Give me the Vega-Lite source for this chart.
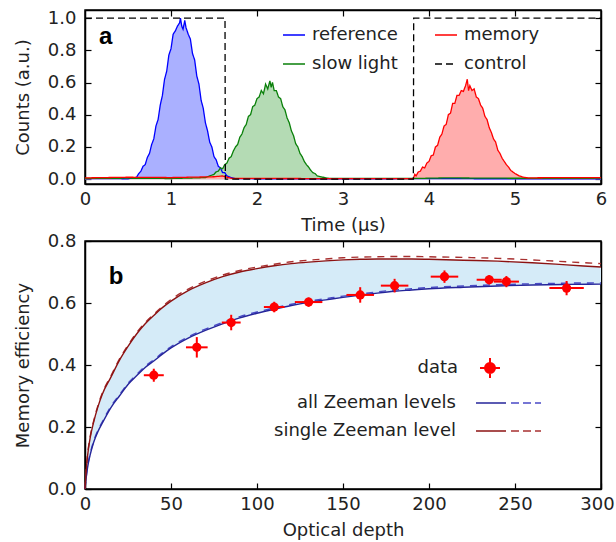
{
  "$schema": "https://vega.github.io/schema/vega-lite/v6.json",
  "padding": {"left": 13, "top": 8, "right": 10, "bottom": 4},
  "spacing": -4,
  "config": {
    "font": "DejaVu Sans",
    "view": {"stroke": "#000", "strokeWidth": 1.5},
    "axis": {"labelFont": "DejaVu Sans", "labelFontSize": 18, "labelColor": "#222", "titleFont": "DejaVu Sans", "titleFontSize": 18, "titleFontWeight": "normal", "titleColor": "#222", "tickSize": -6, "tickColor": "#000", "tickWidth": 1.2, "domainColor": "#000", "domainWidth": 1.5, "grid": false, "labelFlush": false, "labelOverlap": false},
    "axisX": {"labelPadding": 12, "titlePadding": 8},
    "axisY": {"labelPadding": 15, "titlePadding": 15},
    "legend": {"labelFont": "DejaVu Sans", "labelFontSize": 18, "labelColor": "#222", "padding": 0, "labelLimit": 0}
  },
  "resolve": {"scale": {"color": "independent", "strokeDash": "independent", "fill": "independent", "stroke": "independent", "shape": "independent"}},
  "datasets": {
    "pulses": [
      {"t": 0, "v": 0.003, "s": "reference"}, {"t": 0.3, "v": 0.004, "s": "reference"}, {"t": 0.5, "v": 0.002, "s": "reference"}, {"t": 0.6, "v": 0.012, "s": "reference"}, {"t": 0.625, "v": 0.035, "s": "reference"}, {"t": 0.65, "v": 0.05, "s": "reference"}, {"t": 0.675, "v": 0.08, "s": "reference"}, {"t": 0.7, "v": 0.09, "s": "reference"}, {"t": 0.725, "v": 0.135, "s": "reference"}, {"t": 0.75, "v": 0.16, "s": "reference"}, {"t": 0.775, "v": 0.215, "s": "reference"}, {"t": 0.8, "v": 0.25, "s": "reference"}, {"t": 0.825, "v": 0.33, "s": "reference"}, {"t": 0.85, "v": 0.37, "s": "reference"}, {"t": 0.875, "v": 0.46, "s": "reference"}, {"t": 0.9, "v": 0.52, "s": "reference"}, {"t": 0.925, "v": 0.62, "s": "reference"}, {"t": 0.95, "v": 0.67, "s": "reference"}, {"t": 0.975, "v": 0.77, "s": "reference"}, {"t": 1.0, "v": 0.81, "s": "reference"}, {"t": 1.025, "v": 0.9, "s": "reference"}, {"t": 1.05, "v": 0.92, "s": "reference"}, {"t": 1.075, "v": 0.95, "s": "reference"}, {"t": 1.1, "v": 0.97, "s": "reference"}, {"t": 1.11, "v": 1.0, "s": "reference"}, {"t": 1.125, "v": 0.95, "s": "reference"}, {"t": 1.14, "v": 0.93, "s": "reference"}, {"t": 1.16, "v": 0.985, "s": "reference"}, {"t": 1.175, "v": 0.94, "s": "reference"}, {"t": 1.2, "v": 0.9, "s": "reference"}, {"t": 1.225, "v": 0.87, "s": "reference"}, {"t": 1.25, "v": 0.78, "s": "reference"}, {"t": 1.275, "v": 0.74, "s": "reference"}, {"t": 1.3, "v": 0.64, "s": "reference"}, {"t": 1.325, "v": 0.59, "s": "reference"}, {"t": 1.35, "v": 0.49, "s": "reference"}, {"t": 1.375, "v": 0.44, "s": "reference"}, {"t": 1.4, "v": 0.35, "s": "reference"}, {"t": 1.425, "v": 0.3, "s": "reference"}, {"t": 1.45, "v": 0.23, "s": "reference"}, {"t": 1.475, "v": 0.2, "s": "reference"}, {"t": 1.5, "v": 0.14, "s": "reference"}, {"t": 1.525, "v": 0.12, "s": "reference"}, {"t": 1.55, "v": 0.08, "s": "reference"}, {"t": 1.575, "v": 0.07, "s": "reference"}, {"t": 1.6, "v": 0.04, "s": "reference"}, {"t": 1.625, "v": 0.04, "s": "reference"}, {"t": 1.65, "v": 0.02, "s": "reference"}, {"t": 1.7, "v": 0.01, "s": "reference"}, {"t": 1.75, "v": 0.003, "s": "reference"}, {"t": 2.5, "v": 0.002, "s": "reference"}, {"t": 4, "v": 0.003, "s": "reference"}, {"t": 6, "v": 0.002, "s": "reference"},
      {"t": 0, "v": 0.005, "s": "slow light"}, {"t": 0.5, "v": 0.006, "s": "slow light"}, {"t": 1.0, "v": 0.004, "s": "slow light"}, {"t": 1.3, "v": 0.008, "s": "slow light"}, {"t": 1.4, "v": 0.01, "s": "slow light"}, {"t": 1.45, "v": 0.02, "s": "slow light"}, {"t": 1.5, "v": 0.03, "s": "slow light"}, {"t": 1.525, "v": 0.045, "s": "slow light"}, {"t": 1.55, "v": 0.05, "s": "slow light"}, {"t": 1.575, "v": 0.07, "s": "slow light"}, {"t": 1.6, "v": 0.065, "s": "slow light"}, {"t": 1.625, "v": 0.09, "s": "slow light"}, {"t": 1.65, "v": 0.1, "s": "slow light"}, {"t": 1.675, "v": 0.13, "s": "slow light"}, {"t": 1.7, "v": 0.14, "s": "slow light"}, {"t": 1.725, "v": 0.175, "s": "slow light"}, {"t": 1.75, "v": 0.2, "s": "slow light"}, {"t": 1.775, "v": 0.215, "s": "slow light"}, {"t": 1.8, "v": 0.26, "s": "slow light"}, {"t": 1.825, "v": 0.28, "s": "slow light"}, {"t": 1.85, "v": 0.32, "s": "slow light"}, {"t": 1.875, "v": 0.34, "s": "slow light"}, {"t": 1.9, "v": 0.39, "s": "slow light"}, {"t": 1.925, "v": 0.4, "s": "slow light"}, {"t": 1.95, "v": 0.45, "s": "slow light"}, {"t": 1.975, "v": 0.46, "s": "slow light"}, {"t": 2.0, "v": 0.5, "s": "slow light"}, {"t": 2.025, "v": 0.51, "s": "slow light"}, {"t": 2.05, "v": 0.55, "s": "slow light"}, {"t": 2.075, "v": 0.53, "s": "slow light"}, {"t": 2.1, "v": 0.59, "s": "slow light"}, {"t": 2.125, "v": 0.56, "s": "slow light"}, {"t": 2.15, "v": 0.61, "s": "slow light"}, {"t": 2.165, "v": 0.57, "s": "slow light"}, {"t": 2.18, "v": 0.6, "s": "slow light"}, {"t": 2.2, "v": 0.55, "s": "slow light"}, {"t": 2.225, "v": 0.55, "s": "slow light"}, {"t": 2.25, "v": 0.51, "s": "slow light"}, {"t": 2.275, "v": 0.5, "s": "slow light"}, {"t": 2.3, "v": 0.45, "s": "slow light"}, {"t": 2.325, "v": 0.43, "s": "slow light"}, {"t": 2.35, "v": 0.38, "s": "slow light"}, {"t": 2.375, "v": 0.35, "s": "slow light"}, {"t": 2.4, "v": 0.3, "s": "slow light"}, {"t": 2.425, "v": 0.27, "s": "slow light"}, {"t": 2.45, "v": 0.22, "s": "slow light"}, {"t": 2.475, "v": 0.2, "s": "slow light"}, {"t": 2.5, "v": 0.16, "s": "slow light"}, {"t": 2.525, "v": 0.14, "s": "slow light"}, {"t": 2.55, "v": 0.11, "s": "slow light"}, {"t": 2.575, "v": 0.09, "s": "slow light"}, {"t": 2.6, "v": 0.075, "s": "slow light"}, {"t": 2.625, "v": 0.055, "s": "slow light"}, {"t": 2.65, "v": 0.04, "s": "slow light"}, {"t": 2.675, "v": 0.035, "s": "slow light"}, {"t": 2.7, "v": 0.02, "s": "slow light"}, {"t": 2.75, "v": 0.014, "s": "slow light"}, {"t": 2.8, "v": 0.008, "s": "slow light"}, {"t": 2.85, "v": 0.004, "s": "slow light"}, {"t": 3.2, "v": 0.005, "s": "slow light"}, {"t": 3.8, "v": 0.004, "s": "slow light"}, {"t": 4.2, "v": 0.008, "s": "slow light"}, {"t": 4.8, "v": 0.006, "s": "slow light"}, {"t": 5.5, "v": 0.005, "s": "slow light"}, {"t": 6, "v": 0.006, "s": "slow light"},
      {"t": 0, "v": 0.008, "s": "memory"}, {"t": 0.5, "v": 0.012, "s": "memory"}, {"t": 1.0, "v": 0.01, "s": "memory"}, {"t": 1.5, "v": 0.015, "s": "memory"}, {"t": 1.6, "v": 0.02, "s": "memory"}, {"t": 1.7, "v": 0.005, "s": "memory"}, {"t": 2.5, "v": 0.004, "s": "memory"}, {"t": 3.5, "v": 0.003, "s": "memory"}, {"t": 3.818, "v": 0.004, "s": "memory"}, {"t": 3.835, "v": 0.03, "s": "memory"}, {"t": 3.85, "v": 0.02, "s": "memory"}, {"t": 3.875, "v": 0.045, "s": "memory"}, {"t": 3.9, "v": 0.05, "s": "memory"}, {"t": 3.925, "v": 0.075, "s": "memory"}, {"t": 3.95, "v": 0.07, "s": "memory"}, {"t": 3.975, "v": 0.1, "s": "memory"}, {"t": 4.0, "v": 0.11, "s": "memory"}, {"t": 4.025, "v": 0.145, "s": "memory"}, {"t": 4.05, "v": 0.15, "s": "memory"}, {"t": 4.075, "v": 0.2, "s": "memory"}, {"t": 4.1, "v": 0.21, "s": "memory"}, {"t": 4.125, "v": 0.26, "s": "memory"}, {"t": 4.15, "v": 0.28, "s": "memory"}, {"t": 4.175, "v": 0.33, "s": "memory"}, {"t": 4.2, "v": 0.34, "s": "memory"}, {"t": 4.225, "v": 0.4, "s": "memory"}, {"t": 4.25, "v": 0.41, "s": "memory"}, {"t": 4.275, "v": 0.47, "s": "memory"}, {"t": 4.3, "v": 0.47, "s": "memory"}, {"t": 4.325, "v": 0.52, "s": "memory"}, {"t": 4.35, "v": 0.52, "s": "memory"}, {"t": 4.375, "v": 0.55, "s": "memory"}, {"t": 4.4, "v": 0.545, "s": "memory"}, {"t": 4.425, "v": 0.58, "s": "memory"}, {"t": 4.445, "v": 0.62, "s": "memory"}, {"t": 4.46, "v": 0.55, "s": "memory"}, {"t": 4.475, "v": 0.58, "s": "memory"}, {"t": 4.5, "v": 0.55, "s": "memory"}, {"t": 4.525, "v": 0.56, "s": "memory"}, {"t": 4.55, "v": 0.51, "s": "memory"}, {"t": 4.575, "v": 0.5, "s": "memory"}, {"t": 4.6, "v": 0.46, "s": "memory"}, {"t": 4.625, "v": 0.44, "s": "memory"}, {"t": 4.65, "v": 0.39, "s": "memory"}, {"t": 4.675, "v": 0.37, "s": "memory"}, {"t": 4.7, "v": 0.32, "s": "memory"}, {"t": 4.725, "v": 0.29, "s": "memory"}, {"t": 4.75, "v": 0.25, "s": "memory"}, {"t": 4.775, "v": 0.23, "s": "memory"}, {"t": 4.8, "v": 0.18, "s": "memory"}, {"t": 4.825, "v": 0.16, "s": "memory"}, {"t": 4.85, "v": 0.13, "s": "memory"}, {"t": 4.875, "v": 0.11, "s": "memory"}, {"t": 4.9, "v": 0.09, "s": "memory"}, {"t": 4.925, "v": 0.075, "s": "memory"}, {"t": 4.95, "v": 0.055, "s": "memory"}, {"t": 4.975, "v": 0.045, "s": "memory"}, {"t": 5.0, "v": 0.035, "s": "memory"}, {"t": 5.05, "v": 0.02, "s": "memory"}, {"t": 5.1, "v": 0.012, "s": "memory"}, {"t": 5.15, "v": 0.008, "s": "memory"}, {"t": 5.5, "v": 0.01, "s": "memory"}, {"t": 6, "v": 0.01, "s": "memory"},
      {"t": 0, "v": 1, "s": "control"}, {"t": 1.628, "v": 1, "s": "control"}, {"t": 1.632, "v": 0, "s": "control"}, {"t": 3.818, "v": 0, "s": "control"}, {"t": 3.822, "v": 1, "s": "control"}, {"t": 6, "v": 1, "s": "control"}
    ],
    "curves": [
      {"od": 0, "eff": 0, "model": "all Zeeman levels"}, {"od": 1, "eff": 0.05, "model": "all Zeeman levels"}, {"od": 2, "eff": 0.085, "model": "all Zeeman levels"}, {"od": 3, "eff": 0.11, "model": "all Zeeman levels"}, {"od": 5, "eff": 0.15, "model": "all Zeeman levels"}, {"od": 7.5, "eff": 0.185, "model": "all Zeeman levels"}, {"od": 10, "eff": 0.212, "model": "all Zeeman levels"}, {"od": 15, "eff": 0.262, "model": "all Zeeman levels"}, {"od": 20, "eff": 0.3, "model": "all Zeeman levels"}, {"od": 25, "eff": 0.337, "model": "all Zeeman levels"}, {"od": 30, "eff": 0.365, "model": "all Zeeman levels"}, {"od": 35, "eff": 0.392, "model": "all Zeeman levels"}, {"od": 40, "eff": 0.413, "model": "all Zeeman levels"}, {"od": 45, "eff": 0.435, "model": "all Zeeman levels"}, {"od": 50, "eff": 0.455, "model": "all Zeeman levels"}, {"od": 60, "eff": 0.487, "model": "all Zeeman levels"}, {"od": 70, "eff": 0.512, "model": "all Zeeman levels"}, {"od": 80, "eff": 0.533, "model": "all Zeeman levels"}, {"od": 90, "eff": 0.552, "model": "all Zeeman levels"}, {"od": 100, "eff": 0.567, "model": "all Zeeman levels"}, {"od": 110, "eff": 0.58, "model": "all Zeeman levels"}, {"od": 120, "eff": 0.592, "model": "all Zeeman levels"}, {"od": 130, "eff": 0.602, "model": "all Zeeman levels"}, {"od": 140, "eff": 0.61, "model": "all Zeeman levels"}, {"od": 150, "eff": 0.618, "model": "all Zeeman levels"}, {"od": 160, "eff": 0.625, "model": "all Zeeman levels"}, {"od": 170, "eff": 0.632, "model": "all Zeeman levels"}, {"od": 180, "eff": 0.638, "model": "all Zeeman levels"}, {"od": 190, "eff": 0.642, "model": "all Zeeman levels"}, {"od": 200, "eff": 0.646, "model": "all Zeeman levels"}, {"od": 220, "eff": 0.651, "model": "all Zeeman levels"}, {"od": 240, "eff": 0.655, "model": "all Zeeman levels"}, {"od": 260, "eff": 0.658, "model": "all Zeeman levels"}, {"od": 280, "eff": 0.66, "model": "all Zeeman levels"}, {"od": 300, "eff": 0.661, "model": "all Zeeman levels"},
      {"od": 0, "eff": 0, "model": "single Zeeman level"}, {"od": 1, "eff": 0.08, "model": "single Zeeman level"}, {"od": 2, "eff": 0.13, "model": "single Zeeman level"}, {"od": 3, "eff": 0.165, "model": "single Zeeman level"}, {"od": 5, "eff": 0.215, "model": "single Zeeman level"}, {"od": 7.5, "eff": 0.265, "model": "single Zeeman level"}, {"od": 10, "eff": 0.305, "model": "single Zeeman level"}, {"od": 15, "eff": 0.36, "model": "single Zeeman level"}, {"od": 20, "eff": 0.415, "model": "single Zeeman level"}, {"od": 25, "eff": 0.46, "model": "single Zeeman level"}, {"od": 30, "eff": 0.5, "model": "single Zeeman level"}, {"od": 35, "eff": 0.533, "model": "single Zeeman level"}, {"od": 40, "eff": 0.56, "model": "single Zeeman level"}, {"od": 45, "eff": 0.585, "model": "single Zeeman level"}, {"od": 50, "eff": 0.606, "model": "single Zeeman level"}, {"od": 60, "eff": 0.64, "model": "single Zeeman level"}, {"od": 70, "eff": 0.665, "model": "single Zeeman level"}, {"od": 80, "eff": 0.685, "model": "single Zeeman level"}, {"od": 90, "eff": 0.7, "model": "single Zeeman level"}, {"od": 100, "eff": 0.711, "model": "single Zeeman level"}, {"od": 110, "eff": 0.72, "model": "single Zeeman level"}, {"od": 120, "eff": 0.727, "model": "single Zeeman level"}, {"od": 130, "eff": 0.732, "model": "single Zeeman level"}, {"od": 140, "eff": 0.736, "model": "single Zeeman level"}, {"od": 150, "eff": 0.739, "model": "single Zeeman level"}, {"od": 160, "eff": 0.741, "model": "single Zeeman level"}, {"od": 170, "eff": 0.742, "model": "single Zeeman level"}, {"od": 180, "eff": 0.742, "model": "single Zeeman level"}, {"od": 190, "eff": 0.742, "model": "single Zeeman level"}, {"od": 200, "eff": 0.741, "model": "single Zeeman level"}, {"od": 220, "eff": 0.738, "model": "single Zeeman level"}, {"od": 240, "eff": 0.735, "model": "single Zeeman level"}, {"od": 260, "eff": 0.73, "model": "single Zeeman level"}, {"od": 280, "eff": 0.723, "model": "single Zeeman level"}, {"od": 300, "eff": 0.716, "model": "single Zeeman level"}
    ],
    "curves_d": [
      {"od": 0, "eff": 0, "fit": "all, dashed"}, {"od": 1, "eff": 0.053, "fit": "all, dashed"}, {"od": 2, "eff": 0.089, "fit": "all, dashed"}, {"od": 3, "eff": 0.114, "fit": "all, dashed"}, {"od": 5, "eff": 0.154, "fit": "all, dashed"}, {"od": 7.5, "eff": 0.189, "fit": "all, dashed"}, {"od": 10, "eff": 0.216, "fit": "all, dashed"}, {"od": 15, "eff": 0.266, "fit": "all, dashed"}, {"od": 20, "eff": 0.304, "fit": "all, dashed"}, {"od": 25, "eff": 0.341, "fit": "all, dashed"}, {"od": 30, "eff": 0.369, "fit": "all, dashed"}, {"od": 35, "eff": 0.396, "fit": "all, dashed"}, {"od": 40, "eff": 0.417, "fit": "all, dashed"}, {"od": 45, "eff": 0.439, "fit": "all, dashed"}, {"od": 50, "eff": 0.459, "fit": "all, dashed"}, {"od": 60, "eff": 0.491, "fit": "all, dashed"}, {"od": 70, "eff": 0.516, "fit": "all, dashed"}, {"od": 80, "eff": 0.537, "fit": "all, dashed"}, {"od": 90, "eff": 0.556, "fit": "all, dashed"}, {"od": 100, "eff": 0.571, "fit": "all, dashed"}, {"od": 110, "eff": 0.584, "fit": "all, dashed"}, {"od": 120, "eff": 0.596, "fit": "all, dashed"}, {"od": 130, "eff": 0.606, "fit": "all, dashed"}, {"od": 140, "eff": 0.614, "fit": "all, dashed"}, {"od": 150, "eff": 0.622, "fit": "all, dashed"}, {"od": 160, "eff": 0.629, "fit": "all, dashed"}, {"od": 170, "eff": 0.636, "fit": "all, dashed"}, {"od": 180, "eff": 0.642, "fit": "all, dashed"}, {"od": 190, "eff": 0.646, "fit": "all, dashed"}, {"od": 200, "eff": 0.65, "fit": "all, dashed"}, {"od": 220, "eff": 0.655, "fit": "all, dashed"}, {"od": 240, "eff": 0.659, "fit": "all, dashed"}, {"od": 260, "eff": 0.662, "fit": "all, dashed"}, {"od": 280, "eff": 0.664, "fit": "all, dashed"}, {"od": 300, "eff": 0.665, "fit": "all, dashed"},
      {"od": 0, "eff": 0, "fit": "single, dashed"}, {"od": 1, "eff": 0.084, "fit": "single, dashed"}, {"od": 2, "eff": 0.134, "fit": "single, dashed"}, {"od": 3, "eff": 0.169, "fit": "single, dashed"}, {"od": 5, "eff": 0.219, "fit": "single, dashed"}, {"od": 7.5, "eff": 0.269, "fit": "single, dashed"}, {"od": 10, "eff": 0.309, "fit": "single, dashed"}, {"od": 15, "eff": 0.364, "fit": "single, dashed"}, {"od": 20, "eff": 0.419, "fit": "single, dashed"}, {"od": 25, "eff": 0.464, "fit": "single, dashed"}, {"od": 30, "eff": 0.504, "fit": "single, dashed"}, {"od": 35, "eff": 0.537, "fit": "single, dashed"}, {"od": 40, "eff": 0.564, "fit": "single, dashed"}, {"od": 45, "eff": 0.589, "fit": "single, dashed"}, {"od": 50, "eff": 0.611, "fit": "single, dashed"}, {"od": 60, "eff": 0.645, "fit": "single, dashed"}, {"od": 70, "eff": 0.67, "fit": "single, dashed"}, {"od": 80, "eff": 0.69, "fit": "single, dashed"}, {"od": 90, "eff": 0.705, "fit": "single, dashed"}, {"od": 100, "eff": 0.716, "fit": "single, dashed"}, {"od": 110, "eff": 0.725, "fit": "single, dashed"}, {"od": 120, "eff": 0.733, "fit": "single, dashed"}, {"od": 130, "eff": 0.738, "fit": "single, dashed"}, {"od": 140, "eff": 0.742, "fit": "single, dashed"}, {"od": 150, "eff": 0.746, "fit": "single, dashed"}, {"od": 160, "eff": 0.748, "fit": "single, dashed"}, {"od": 170, "eff": 0.749, "fit": "single, dashed"}, {"od": 180, "eff": 0.75, "fit": "single, dashed"}, {"od": 190, "eff": 0.75, "fit": "single, dashed"}, {"od": 200, "eff": 0.749, "fit": "single, dashed"}, {"od": 220, "eff": 0.747, "fit": "single, dashed"}, {"od": 240, "eff": 0.744, "fit": "single, dashed"}, {"od": 260, "eff": 0.739, "fit": "single, dashed"}, {"od": 280, "eff": 0.733, "fit": "single, dashed"}, {"od": 300, "eff": 0.727, "fit": "single, dashed"}
    ],
    "points": [
      {"od": 40, "eff": 0.367, "dx": 5.8, "dy": 0.021, "kind": "data"},
      {"od": 65, "eff": 0.457, "dx": 6.3, "dy": 0.033, "kind": "data"},
      {"od": 85, "eff": 0.537, "dx": 5.5, "dy": 0.025, "kind": "data"},
      {"od": 110, "eff": 0.587, "dx": 6, "dy": 0.017, "kind": "data"},
      {"od": 130, "eff": 0.603, "dx": 8, "dy": 0.015, "kind": "data"},
      {"od": 160, "eff": 0.626, "dx": 8, "dy": 0.025, "kind": "data"},
      {"od": 180, "eff": 0.656, "dx": 8, "dy": 0.022, "kind": "data"},
      {"od": 209, "eff": 0.685, "dx": 8, "dy": 0.02, "kind": "data"},
      {"od": 235, "eff": 0.675, "dx": 7.3, "dy": 0.015, "kind": "data"},
      {"od": 245, "eff": 0.669, "dx": 7.3, "dy": 0.018, "kind": "data"},
      {"od": 280, "eff": 0.648, "dx": 10, "dy": 0.023, "kind": "data"}
    ],
    "one": [{}]
  },
  "vconcat": [
    {
      "width": 516,
      "height": 174,
      "resolve": {"axis": {"x": "independent", "y": "independent"}},
      "layer": [
        {
          "data": {"name": "pulses"},
          "transform": [{"filter": "datum.s != 'control'"}],
          "mark": {"type": "area", "opacity": 1},
          "encoding": {
            "x": {"field": "t", "type": "quantitative", "scale": {"domain": [0, 6], "nice": false}, "axis": {"orient": "top", "labels": false, "title": null, "values": [1, 2, 3, 4, 5]}},
            "y": {"field": "v", "type": "quantitative", "scale": {"domain": [-0.03, 1.05], "nice": false, "zero": false}, "axis": {"orient": "right", "labels": false, "title": null, "values": [0, 0.2, 0.4, 0.6, 0.8, 1.0]}},
            "y2": {"datum": 0},
            "fill": {"field": "s", "type": "nominal", "scale": {"domain": ["reference", "slow light", "memory"], "range": ["#aab0ff", "#b4dbb4", "#ffadad"]}, "legend": null}
          }
        },
        {
          "data": {"name": "pulses"},
          "mark": {"type": "line", "strokeWidth": 1.3},
          "encoding": {
            "x": {"field": "t", "type": "quantitative", "axis": {"title": "Time (μs)", "values": [0, 1, 2, 3, 4, 5, 6], "format": "d"}},
            "y": {"field": "v", "type": "quantitative", "axis": {"title": "Counts (a.u.)", "values": [0, 0.2, 0.4, 0.6, 0.8, 1.0], "format": ".1f"}},
            "color": {"field": "s", "type": "nominal", "scale": {"domain": ["reference", "slow light", "memory", "control"], "range": ["#0000ff", "#0a800a", "#ff0000", "#000000"]},
              "legend": {"title": null, "orient": "none", "legendX": 197, "legendY": 13, "columns": 2, "columnPadding": 34, "rowPadding": 8, "symbolType": "stroke", "symbolSize": 484, "symbolStrokeWidth": 1.5, "labelOffset": 6}},
            "strokeDash": {"field": "s", "type": "nominal", "scale": {"domain": ["reference", "slow light", "memory", "control"], "range": [[1, 0], [1, 0], [1, 0], [7, 4]]},
              "legend": {"title": null, "orient": "none", "legendX": 197, "legendY": 13, "columns": 2, "columnPadding": 34, "rowPadding": 8, "symbolType": "stroke", "symbolSize": 484, "symbolStrokeWidth": 1.5, "labelOffset": 6}}
          }
        },
        {
          "data": {"name": "one"},
          "mark": {"type": "text", "text": "a", "font": "Liberation Sans", "fontWeight": "bold", "fontSize": 24, "color": "#000"},
          "encoding": {
            "x": {"datum": 0.24, "type": "quantitative", "axis": null},
            "y": {"datum": 0.885, "type": "quantitative", "axis": null}
          }
        }
      ]
    },
    {
      "width": 516,
      "height": 248,
      "resolve": {"axis": {"x": "independent", "y": "independent"}},
      "layer": [
        {
          "data": {"name": "curves"},
          "transform": [{"pivot": "model", "value": "eff", "groupby": ["od"]}],
          "mark": {"type": "area", "color": "#d5ebf8", "interpolate": "monotone"},
          "encoding": {
            "x": {"field": "od", "type": "quantitative", "scale": {"domain": [0, 300], "nice": false}, "axis": {"orient": "top", "labels": false, "title": null, "values": [50, 100, 150, 200, 250]}},
            "y": {"field": "single Zeeman level", "type": "quantitative", "scale": {"domain": [0, 0.8], "nice": false}, "axis": {"orient": "right", "labels": false, "title": null, "values": [0.2, 0.4, 0.6]}},
            "y2": {"field": "all Zeeman levels"}
          }
        },
        {
          "data": {"name": "curves_d"},
          "mark": {"type": "line", "strokeWidth": 1.4, "strokeDash": [7, 6], "interpolate": "monotone"},
          "encoding": {
            "x": {"field": "od", "type": "quantitative", "axis": null},
            "y": {"field": "eff", "type": "quantitative", "axis": null},
            "stroke": {"field": "fit", "type": "nominal", "scale": {"domain": ["all, dashed", "single, dashed"], "range": ["#4a4ac6", "#a83030"]},
              "legend": {"title": null, "orient": "none", "legendX": 425, "legendY": 146, "rowPadding": 3, "symbolType": "stroke", "symbolSize": 900, "symbolStrokeWidth": 1.5, "symbolDash": [8, 4], "labelExpr": "''"}}
          }
        },
        {
          "data": {"name": "curves"},
          "mark": {"type": "line", "strokeWidth": 1.4, "interpolate": "monotone"},
          "encoding": {
            "x": {"field": "od", "type": "quantitative", "axis": {"title": "Optical depth", "values": [0, 50, 100, 150, 200, 250, 300], "labelOffset": {"condition": {"test": "datum.value == 300", "value": -4}, "value": 0}}},
            "y": {"field": "eff", "type": "quantitative", "axis": {"title": "Memory efficiency", "values": [0, 0.2, 0.4, 0.6, 0.8], "format": ".1f"}},
            "color": {"field": "model", "type": "nominal", "scale": {"domain": ["all Zeeman levels", "single Zeeman level"], "range": ["#25259a", "#8c1212"]},
              "legend": {"title": null, "orient": "none", "legendX": 390, "legendY": 146, "rowPadding": 3, "symbolType": "stroke", "symbolSize": 900, "symbolStrokeWidth": 1.5, "labelAlign": "right", "labelOffset": -51}}
          }
        },
        {
          "data": {"name": "points"},
          "mark": {"type": "errorbar", "color": "#ff0000", "thickness": 2},
          "encoding": {
            "x": {"field": "od", "type": "quantitative", "axis": null},
            "xError": {"field": "dx"},
            "y": {"field": "eff", "type": "quantitative", "axis": null}
          }
        },
        {
          "data": {"name": "points"},
          "mark": {"type": "errorbar", "color": "#ff0000", "thickness": 2},
          "encoding": {
            "y": {"field": "eff", "type": "quantitative", "axis": null},
            "yError": {"field": "dy"},
            "x": {"field": "od", "type": "quantitative", "axis": null}
          }
        },
        {
          "data": {"name": "points"},
          "mark": {"type": "point", "filled": true, "size": 85, "opacity": 1, "shape": "circle"},
          "encoding": {
            "x": {"field": "od", "type": "quantitative", "axis": null},
            "y": {"field": "eff", "type": "quantitative", "axis": null},
            "fill": {"field": "kind", "type": "nominal", "scale": {"range": ["#ff0000"]},
              "legend": {"title": null, "orient": "none", "legendX": 394, "legendY": 116, "symbolType": "M-0.5,0A0.5,0.5,0,1,1,0.5,0A0.5,0.5,0,1,1,-0.5,0Z M-1,0L1,0 M0,-1L0,1", "symbolSize": 400, "symbolStrokeColor": "#ff0000", "symbolStrokeWidth": 2, "symbolOpacity": 1, "labelAlign": "right", "labelOffset": -43}}
          }
        },
        {
          "data": {"name": "one"},
          "mark": {"type": "text", "text": "b", "font": "Liberation Sans", "fontWeight": "bold", "fontSize": 24, "color": "#000"},
          "encoding": {
            "x": {"datum": 18, "type": "quantitative", "axis": null},
            "y": {"datum": 0.685, "type": "quantitative", "axis": null}
          }
        }
      ]
    }
  ]
}
